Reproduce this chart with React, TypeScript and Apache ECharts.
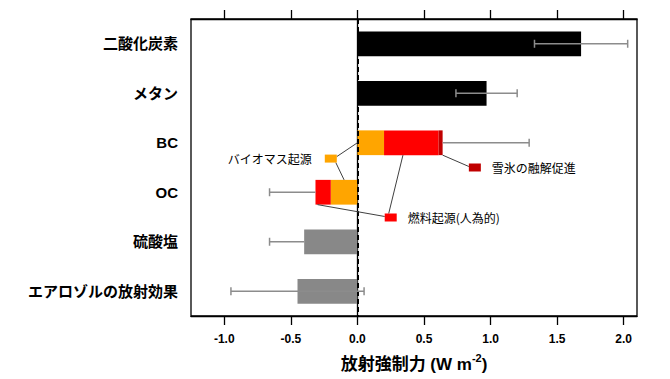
import React, { useEffect, useRef } from 'react';
import * as echarts from 'echarts';

const categories = ['二酸化炭素', 'メタン', 'BC', 'OC', '硫酸塩', 'エアロゾルの放射効果'];
const mainValues = [1.68, 0.97, null, null, -0.4, -0.45];
const mainColors = ['#000000', '#000000', null, null, '#888888', '#888888'];
const biomassValues = [null, null, 0.2, -0.2, null, null];
const fossilValues = [null, null, 0.41, -0.115, null, null];
const snowValues = [null, null, 0.03, null, null, null];
const errLow = [1.33, 0.74, 0.64, -0.66, -0.66, -0.95];
const errHigh = [2.03, 1.2, 1.29, -0.315, -0.4, 0.05];
const capLow = [1, 1, 0, 1, 1, 1];
const capHigh = [1, 1, 1, 0, 0, 1];
const tickValues = [-1.0, -0.5, 0, 0.5, 1.0, 1.5, 2.0];
const labelBiomass = 'バイオマス起源';
const labelFossil = '燃料起源(人為的)';
const labelSnow = '雪氷の融解促進';

const FONT = "'Liberation Sans', Arial, 'Noto Sans CJK JP', sans-serif";
const JP = "'Noto Sans CJK JP', sans-serif";
const ORANGE = '#FFA500';
const RED = '#FF0000';
const DARKRED = '#C00000';
const ERR = '#8c8c8c';
const LINK = '#404040';

export default function App() {
  const ref = useRef<HTMLDivElement>(null);
  useEffect(() => {
    if (!ref.current) return;
    const chart = echarts.init(ref.current, undefined, { renderer: 'svg' });
    const errData = categories.map((_, i) => [errLow[i], errHigh[i], i, capLow[i], capHigh[i]]);
    const xCommon = {
      type: 'value' as const,
      min: -1.25,
      max: 2.1,
      splitLine: { show: false },
      axisLine: { show: true, lineStyle: { color: '#000', width: 1.3 } },
      axisTick: { show: true, inside: false, length: 9, customValues: tickValues, lineStyle: { color: '#000', width: 1.3 } },
    };
    chart.setOption({
      animation: false,
      grid: { left: 191, right: 33, top: 19, bottom: 63, show: true, borderColor: '#000', borderWidth: 1.3, backgroundColor: 'transparent' },
      xAxis: [
        {
          ...xCommon,
          position: 'bottom',
          axisLabel: {
            show: true,
            customValues: tickValues,
            margin: 17,
            fontSize: 12,
            fontWeight: 'bold',
            color: '#000',
            fontFamily: FONT,
            formatter: (v: number) => v.toFixed(1),
          },
          name: '{a|放射強制力 (W m}{s|-2}{a|)}',
          nameLocation: 'middle',
          nameGap: 36,
          nameTextStyle: {
            rich: {
              a: { fontSize: 17, fontWeight: 'bold', color: '#000', fontFamily: FONT, verticalAlign: 'bottom' },
              s: { fontSize: 11, fontWeight: 'bold', color: '#000', fontFamily: FONT, verticalAlign: 'bottom', padding: [0, 0, 10, 0] },
            },
          },
        },
        {
          ...xCommon,
          position: 'top',
          axisLabel: { show: false },
        },
      ],
      yAxis: {
        type: 'category',
        data: categories,
        inverse: true,
        axisLine: { show: true, lineStyle: { color: '#000', width: 1.3 } },
        axisTick: { show: false },
        axisLabel: { margin: 13, fontSize: 15, fontWeight: 'bold', color: '#000', fontFamily: FONT },
      },
      series: [
        {
          type: 'bar',
          stack: 'rf',
          barWidth: '50%',
          data: mainValues.map((v, i) => (v === null ? null : { value: v, itemStyle: { color: mainColors[i] } })),
          markLine: {
            silent: true,
            symbol: 'none',
            label: { show: false },
            lineStyle: { color: '#000', width: 2, type: [5, 3] },
            data: [{ xAxis: 0 }],
          },
        },
        { type: 'bar', stack: 'rf', barWidth: '50%', data: biomassValues, itemStyle: { color: ORANGE } },
        { type: 'bar', stack: 'rf', barWidth: '50%', data: fossilValues, itemStyle: { color: RED } },
        { type: 'bar', stack: 'rf', barWidth: '50%', data: snowValues, itemStyle: { color: DARKRED } },
        {
          type: 'custom',
          z: 5,
          data: errData,
          encode: { x: [0, 1], y: 2 },
          renderItem: (params: any, api: any) => {
            const lo = api.value(0);
            const hi = api.value(1);
            const idx = api.value(2);
            const p1 = api.coord([lo, idx]);
            const p2 = api.coord([hi, idx]);
            const st = { stroke: ERR, lineWidth: 1.5 };
            const c = 4;
            const children: any[] = [
              { type: 'line', shape: { x1: p1[0], y1: p1[1], x2: p2[0], y2: p2[1] }, style: st },
            ];
            if (api.value(3)) children.push({ type: 'line', shape: { x1: p1[0], y1: p1[1] - c, x2: p1[0], y2: p1[1] + c }, style: st });
            if (api.value(4)) children.push({ type: 'line', shape: { x1: p2[0], y1: p2[1] - c, x2: p2[0], y2: p2[1] + c }, style: st });
            return { type: 'group', children };
          },
        },
      ],
    });

    const X = (v: number) => chart.convertToPixel({ xAxisIndex: 0 }, v) as number;
    const Y = (c: string) => chart.convertToPixel({ yAxisIndex: 0 }, c) as number;
    const yBC = Y('BC');
    const yOC = Y('OC');
    const band = yOC - yBC;
    const h = band * 0.25;
    const sqW = 12;
    const sqH = 8;
    const link = (x1: number, y1: number, x2: number, y2: number) => ({
      type: 'line', silent: true, shape: { x1, y1, x2, y2 }, style: { stroke: LINK, lineWidth: 1 }, z: 10,
    });
    const sq = (x: number, y: number, color: string) => ({
      type: 'rect', silent: true, shape: { x, y: y - sqH / 2, width: sqW, height: sqH }, style: { fill: color }, z: 10,
    });
    const txt = (x: number, y: number, s: string, align: string) => ({
      type: 'text', silent: true, x, y, z: 10,
      style: { text: s, fill: '#000', font: `12px ${JP}`, textAlign: align, textVerticalAlign: 'middle' },
    });

    const bX = X(-0.245);
    const bY = yBC + band * 0.32;
    const sX = X(0.837);
    const sY = yBC + band * 0.5;
    const fX = X(0.205);
    const fY = yOC + band * 0.51;

    chart.setOption({
      graphic: [
        link(bX + sqW, bY - 2, X(0), yBC),
        link(bX + sqW - 1, bY + sqH / 2, X(-0.1), yOC - h),
        sq(bX, bY, ORANGE),
        txt(X(-0.343), bY, labelBiomass, 'right'),

        link(X(0.64), yBC + h, sX, sY - 1),
        sq(sX, sY, DARKRED),
        txt(sX + sqW + 11, sY, labelSnow, 'left'),

        link(X(0.342), yBC + h, fX + 4, fY - sqH / 2),
        link(X(-0.3), yOC + h, fX, fY - 1),
        sq(fX, fY, RED),
        txt(fX + sqW + 11, fY, labelFossil, 'left'),
      ],
    });

    return () => chart.dispose();
  }, []);
  return <div ref={ref} style={{ width: 670, height: 379, position: 'fixed', left: 0, top: 0, background: '#fff' }} />;
}
